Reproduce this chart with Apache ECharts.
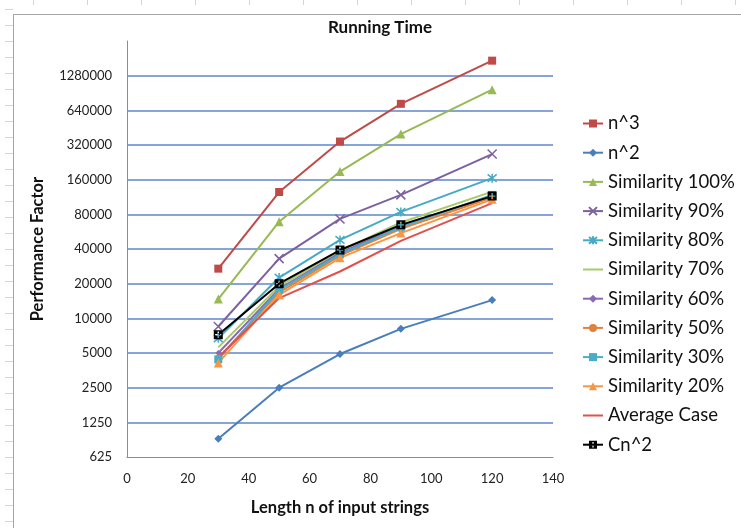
<!DOCTYPE html>
<html>
<head>
<meta charset="utf-8">
<script src="https://cdn.jsdelivr.net/npm/echarts@6/dist/echarts.min.js"></script>
<style>
  html, body { margin: 0; padding: 0; background: #fff; }
  #chart { width: 741px; height: 528px; }
</style>
</head>
<body>
<div id="chart"></div>
<script>
// string lengths on the x axis
const lengths = [30, 50, 70, 90, 120];

// y tick labels (log base 2)
const yTicks = [625, 1250, 2500, 5000, 10000, 20000, 40000, 80000, 160000, 320000, 640000, 1280000];

// series values
const nCube = [27000, 125000, 343000, 729000, 1728000];
const nSquare = [900, 2500, 4900, 8100, 14400];
const sim100 = [14700, 69000, 188000, 398000, 967000];
const sim90 = [8500, 33000, 73000, 118000, 267000];
const sim80 = [6700, 22600, 48000, 84000, 165000];
const sim70 = [5600, 19000, 38500, 68000, 126000];
const sim60 = [5000, 18000, 37000, 63500, 116000];
const sim50 = [4500, 16800, 35000, 60000, 112000];
const sim30 = [4400, 17700, 36000, 62000, 118000];
const sim20 = [4100, 16000, 33500, 55000, 108000];
const avgCase = [4600, 15000, 25500, 47000, 100000];
const cn2 = [7200, 20000, 39200, 64800, 115200];

const font = 'Lato';
const base = yTicks[0];
const toY = v => Math.log2(v / base);

// marker shapes
const xMark = 'path://M0,0L10,10M10,0L0,10';
const starMark = 'path://M0,0L10,10M10,0L0,10M5,-1L5,11';
const cn2Mark = 'path://M0,0H10V10H0Z M4.2,1.5V4.2H1.5V5.8H4.2V8.5H5.8V5.8H8.5V4.2H5.8V1.5Z';
const plainLine = 'path://M0,0H20V2H0Z';

function makeSeries(name, vals, color, symbol, size, stroke) {
    return {
        name: name,
        type: 'line',
        data: lengths.map((x, i) => [x, toY(vals[i])]),
        symbol: symbol,
        symbolSize: size,
        showSymbol: symbol !== 'none',
        clip: false,
        lineStyle: { color: color, width: 2 },
        itemStyle: stroke
            ? { color: color, borderColor: color, borderWidth: 1.5 }
            : { color: color },
        emphasis: { disabled: true }
    };
}

let seriesList = [
    makeSeries('n^3', nCube, '#be4b48', 'rect', 8),
    makeSeries('n^2', nSquare, '#4a7ebb', 'diamond', 8),
    makeSeries('Similarity 100%', sim100, '#98b954', 'triangle', 9),
    makeSeries('Similarity 90%', sim90, '#7d60a0', xMark, 9, true),
    makeSeries('Similarity 80%', sim80, '#46aac5', starMark, 9, true),
    makeSeries('Similarity 70%', sim70, '#a9c96b', 'none', 6),
    makeSeries('Similarity 60%', sim60, '#8a6bb0', 'diamond', 6),
    makeSeries('Similarity 50%', sim50, '#e0823d', 'circle', 7),
    makeSeries('Similarity 30%', sim30, '#4bacc6', 'rect', 8),
    makeSeries('Similarity 20%', sim20, '#f79646', 'triangle', 9),
    makeSeries('Average Case', avgCase, '#e0504d', 'none', 6),
    makeSeries('Cn^2', cn2, '#000000', cn2Mark, 9)
];

// series without markers get a plain line in the legend
let legendData = seriesList.map(s => s.symbol === 'none' ? { name: s.name, icon: plainLine } : { name: s.name });

// spreadsheet frame and ruler ticks round the chart
let frame = [
    { type: 'line', shape: { x1: 13.5, y1: 14, x2: 13.5, y2: 528 }, style: { stroke: '#a6a6a6', lineWidth: 1 } },
    { type: 'line', shape: { x1: 13, y1: 14.5, x2: 741, y2: 14.5 }, style: { stroke: '#a6a6a6', lineWidth: 1 } }
];
for (let y = 9; y < 528; y += 16) {
    frame.push({ type: 'line', shape: { x1: 5, y1: y + 0.5, x2: 13, y2: y + 0.5 }, style: { stroke: '#d4d4d4', lineWidth: 1 } });
}
for (let x = 33; x < 741; x += 54) {
    frame.push({ type: 'line', shape: { x1: x + 0.5, y1: 0, x2: x + 0.5, y2: 5 }, style: { stroke: '#d4d4d4', lineWidth: 1 } });
}

let myChart = echarts.init(document.getElementById('chart'));
let option = {
    animation: false,
    backgroundColor: '#fff',
    title: {
        text: 'Running Time',
        left: 323,
        top: 14,
        textStyle: { fontFamily: font, fontSize: 17, fontWeight: 'bold', color: '#111' }
    },
    grid: { left: 127, right: 188, top: 41, bottom: 71 },
    xAxis: {
        type: 'value',
        min: 0,
        max: 140,
        interval: 20,
        name: 'Length n of input strings',
        nameLocation: 'middle',
        nameGap: 42,
        nameTextStyle: { fontFamily: font, fontSize: 16.5, fontWeight: 'bold', color: '#111' },
        axisLine: { lineStyle: { color: '#8c8c8c', width: 1 } },
        axisTick: { show: false },
        splitLine: { show: false },
        axisLabel: { margin: 15, fontFamily: font, fontSize: 13, color: '#222' }
    },
    yAxis: {
        type: 'value',
        min: 0,
        max: 12,
        interval: 1,
        name: 'Performance Factor',
        nameLocation: 'middle',
        nameGap: 81,
        nameTextStyle: { fontFamily: font, fontSize: 16.5, fontWeight: 'bold', color: '#111' },
        axisLine: { show: true, lineStyle: { color: '#8c8c8c', width: 1 } },
        axisTick: { show: false },
        splitLine: {
            show: true,
            showMinLine: false,
            showMaxLine: false,
            lineStyle: { color: '#5f86cb', width: 1.5 }
        },
        axisLabel: {
            margin: 15,
            showMaxLabel: false,
            fontFamily: font,
            fontSize: 13,
            color: '#222',
            formatter: v => String(base * Math.pow(2, v))
        }
    },
    legend: {
        orient: 'vertical',
        left: 577,
        top: 109,
        itemWidth: 20,
        itemHeight: 10,
        itemGap: 10.2,
        data: legendData,
        textStyle: { fontFamily: font, fontSize: 18.5, color: '#111', lineHeight: 17 },
        selectedMode: false
    },
    graphic: frame,
    series: seriesList
};
myChart.setOption(option);
</script>
</body>
</html>
